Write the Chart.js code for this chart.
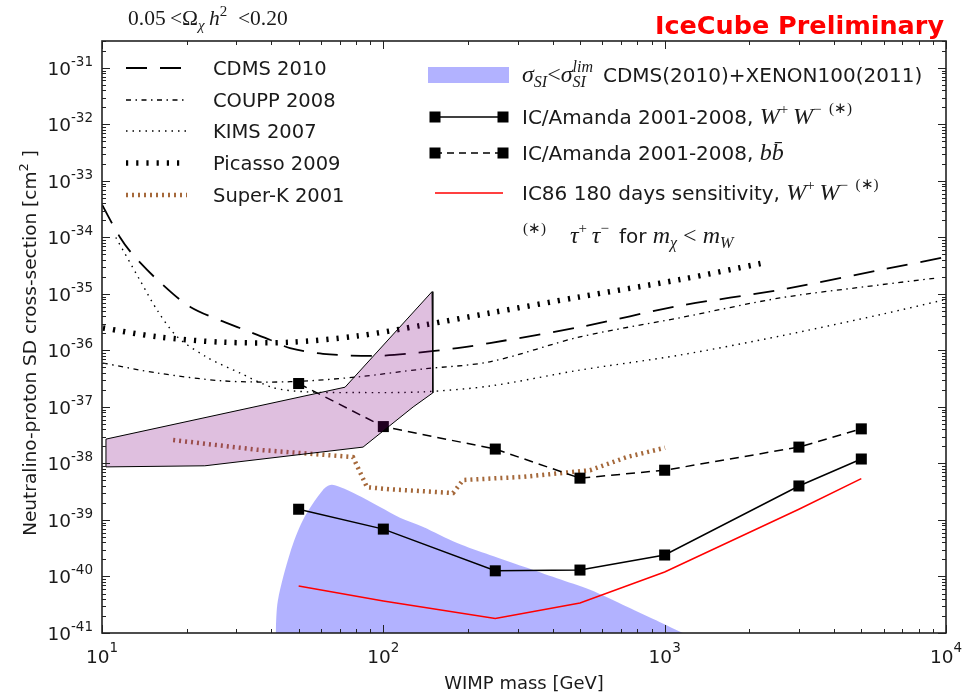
<!DOCTYPE html>
<html>
<head>
<meta charset="utf-8">
<script src="https://cdn.jsdelivr.net/npm/chart.js@4"></script>
<style>
  html, body { margin: 0; padding: 0; background: #fff; }
  #wrap { width: 974px; height: 695px; }
</style>
</head>
<body>
<div id="wrap"><canvas id="c" width="974" height="695"></canvas></div>
<script>
// axis ranges
const xMin = 10, xMax = 1e4;
const yMin = 1e-41, yMax = 3e-31;
const xTickLabels = ['1', '2', '3', '4'];          // exponents of 10
const yTickLabels = ['-31', '-32', '-33', '-34', '-35', '-36', '-37', '-38', '-39', '-40', '-41'];

// direct detection limits
const cdmsMass  = [10, 11.6, 12.9, 15.7, 20.6, 30.9, 39.5, 46.6, 61, 92, 121, 183, 239, 500, 1135, 2570, 5830, 9930];
const cdmsSigma = [3.8e-34, 1.0e-34, 4.9e-35, 1.8e-35, 5.9e-36, 2.5e-36, 1.55e-36, 1.1e-36, 8.7e-37, 8.0e-37, 8.7e-37, 1.1e-36, 1.35e-36, 2.6e-36, 6.2e-36, 1.18e-35, 2.65e-35, 4.5e-35];

const couppMass  = [10.08, 15.7, 26.9, 46.6, 80.6, 138, 239, 500, 1135, 2570, 5830, 9140];
const couppSigma = [6.0e-37, 4.0e-37, 2.9e-37, 2.8e-37, 3.4e-37, 4.7e-37, 6.3e-37, 1.74e-36, 3.8e-36, 8.5e-36, 1.45e-35, 1.9e-35];

const kimsMass  = [11.2, 13.6, 15.7, 18.5, 23.6, 30.9, 40.6, 53.6, 80.6, 138, 239, 500, 1135, 2570, 5830, 9770];
const kimsSigma = [1.0e-34, 1.8e-35, 5.2e-36, 1.75e-36, 7.6e-37, 4.0e-37, 2.2e-37, 1.85e-37, 1.8e-37, 1.85e-37, 2.35e-37, 4.5e-37, 8.3e-37, 1.8e-36, 4.3e-36, 7.8e-36];

const picassoMass  = [10.08, 15.7, 26.9, 46.6, 80.6, 138, 239, 500, 1135, 2220];
const picassoSigma = [2.5e-36, 1.75e-36, 1.4e-36, 1.4e-36, 1.8e-36, 2.8e-36, 4.6e-36, 8.9e-36, 1.8e-35, 3.5e-35];

const superkMass  = [17.9, 35.6, 53.6, 78, 87.5, 105.6, 177, 192, 314, 543, 735, 1003];
const superkSigma = [2.6e-38, 1.75e-38, 1.5e-38, 1.3e-38, 3.8e-39, 3.5e-39, 3.0e-39, 5.1e-39, 5.8e-39, 7.6e-39, 1.3e-38, 1.9e-38];

// sigma_SI < sigma_SI^lim region (filled down to the axis)
const siMass  = [41.4, 42.2, 46.6, 51.8, 61, 65.7, 80.6, 97.3, 114.6, 138, 183, 239, 314, 414, 543, 735, 963, 1162];
const siSigma = [1e-41, 3.8e-41, 2.6e-40, 1e-39, 3.4e-39, 4.2e-39, 2.8e-39, 1.7e-39, 1.1e-39, 7.6e-40, 3.9e-40, 2.4e-40, 1.5e-40, 9.3e-41, 5.8e-41, 2.9e-41, 1.55e-41, 1e-41];

// purple model region (closed outline)
const regionMass  = [10.33, 73.1, 149, 150, 127.6, 84.7, 23.2, 10.33, 10.33];
const regionSigma = [2.7e-38, 2.24e-37, 1.1e-35, 1.78e-37, 1e-37, 1.95e-38, 9.1e-39, 8.7e-39, 2.7e-38];

// IceCube results
const icMass    = [50, 100, 250, 500, 1000, 3000, 5000];
const icWW      = [1.55e-39, 6.9e-40, 1.26e-40, 1.3e-40, 2.4e-40, 4.0e-39, 1.2e-38];
const icBB      = [2.6e-37, 4.5e-38, 1.8e-38, 5.5e-39, 7.6e-39, 1.95e-38, 4.1e-38];
const ic86Sens  = [6.8e-41, 3.7e-41, 1.8e-41, 3.4e-41, 1.2e-40, 1.55e-39, 5.4e-39];

const pts = (xs, ys) => xs.map((x, i) => ({ x: x, y: ys[i] }));

const SANS = '"DejaVu Sans"';
const MATH = '"Liberation Serif"';
const TXT = '#1a1a1a';
const SUPERK = '#a5683a';
const BLUE_FILL = 'rgba(0,0,255,0.3)';
const PURPLE_FILL = 'rgba(128,0,128,0.25)';

const styles = {
    cdms:    { color: '#000', width: 1.8, dash: [21, 13] },
    coupp:   { color: '#000', width: 1.3, dash: [5, 4.5, 1.5, 4.5] },
    kims:    { color: '#000', width: 1.4, dash: [1.5, 5] },
    picasso: { color: '#000', width: 5.5, dash: [2.2, 8] },
    superk:  { color: SUPERK, width: 4.5, dash: [2, 4] },
};

function limitSet(label, xs, ys, st, tension) {
    return {
        label: label, data: pts(xs, ys), showLine: true,
        borderColor: st.color, borderWidth: st.width, borderDash: st.dash,
        pointRadius: 0, fill: false, tension: tension, order: 5,
    };
}

const mi = (s) => `italic ${s}px ${MATH}`;
const rm = (s) => `${s}px ${MATH}`;
const sf = (s) => `${s}px ${SANS}`;

function rich(ctx, x, y, segs) {
    let cx = x;
    for (const s of segs) {
        ctx.font = s.f;
        const w = ctx.measureText(s.t).width;
        ctx.fillText(s.t, cx, y + (s.dy || 0));
        if (s.bar) {
            ctx.fillRect(cx + w * 0.25, y - 18, w * 0.6, 1.2);
        }
        if (!s.stay) cx += w;
    }
    return cx;
}

function richWidth(ctx, segs) {
    let w = 0;
    for (const s of segs) { ctx.font = s.f; if (!s.stay) w += ctx.measureText(s.t).width; }
    return w;
}

function sample(ctx, x0, x1, y, st) {
    ctx.save();
    ctx.strokeStyle = st.color; ctx.lineWidth = st.width;
    ctx.setLineDash(st.dash || []);
    ctx.beginPath(); ctx.moveTo(x0, y); ctx.lineTo(x1, y); ctx.stroke();
    ctx.restore();
}

const framePlugin = {
    id: 'frame',
    afterDraw(chart) {
        const ctx = chart.ctx;
        const { left, right, top, bottom } = chart.chartArea;
        const xs = chart.scales.x, ys = chart.scales.y;
        ctx.save();

        // ticks on all four sides, pointing inwards
        ctx.strokeStyle = '#222'; ctx.lineWidth = 1;
        for (let d = 1; d <= 4; d++) {
            for (let k = 1; k <= 9; k++) {
                const v = k * Math.pow(10, d);
                if (v > xMax * 1.001) break;
                const px = Math.round(xs.getPixelForValue(v)) + 0.5;
                const len = k === 1 ? 8 : 4;
                ctx.beginPath();
                ctx.moveTo(px, bottom); ctx.lineTo(px, bottom - len);
                ctx.moveTo(px, top); ctx.lineTo(px, top + len);
                ctx.stroke();
            }
        }
        for (let d = -41; d <= -31; d++) {
            for (let k = 1; k <= 9; k++) {
                const v = k * Math.pow(10, d);
                if (v > yMax * 1.001) break;
                const py = Math.round(ys.getPixelForValue(v)) + 0.5;
                const len = k === 1 ? 8 : 4;
                ctx.beginPath();
                ctx.moveTo(left, py); ctx.lineTo(left + len, py);
                ctx.moveTo(right, py); ctx.lineTo(right - len, py);
                ctx.stroke();
            }
        }
        ctx.lineWidth = 1.6;
        ctx.strokeRect(left, top, right - left, bottom - top);

        // tick labels
        ctx.fillStyle = TXT;
        ctx.textBaseline = 'alphabetic';
        xTickLabels.forEach((e) => {
            const px = xs.getPixelForValue(Math.pow(10, +e));
            const segs = [{ t: '10', f: sf(18.5) }, { t: e, f: sf(13.5), dy: -11 }];
            const w = richWidth(ctx, segs);
            rich(ctx, px - w / 2, 663, segs);
        });
        yTickLabels.forEach((e) => {
            const py = ys.getPixelForValue(Math.pow(10, +e));
            const segs = [{ t: '10', f: sf(18.5) }, { t: e, f: sf(13.5), dy: -9 }];
            const w = richWidth(ctx, segs);
            rich(ctx, 93 - w, py + 7, segs);
        });

        // axis titles
        ctx.font = sf(18);
        ctx.textAlign = 'center';
        ctx.fillText('WIMP mass [GeV]', (left + right) / 2, 689);
        ctx.textAlign = 'left';
        ctx.save();
        ctx.translate(36, 343);
        ctx.rotate(-Math.PI / 2);
        const ylab = [{ t: 'Neutralino-proton SD cross-section [cm', f: sf(18.5) },
                      { t: '2', f: sf(13), dy: -8 }, { t: ' ]', f: sf(18.5) }];
        rich(ctx, -richWidth(ctx, ylab) / 2, 0, ylab);
        ctx.restore();

        // header texts
        rich(ctx, 128, 25, [
            { t: '0.05\u2009<', f: rm(21.5) }, { t: '\u03A9', f: rm(21.5) }, { t: '\u03C7', f: mi(15), dy: 5 },
            { t: '\u2009h', f: mi(21.5) }, { t: '2', f: rm(15), dy: -9 }, { t: '\u2002<0.20', f: rm(21.5) },
        ]);
        ctx.fillStyle = '#ff0000';
        ctx.font = `bold 25.5px ${SANS}`;
        ctx.textAlign = 'right';
        ctx.fillText('IceCube Preliminary', 944, 34);
        ctx.textAlign = 'left';

        // left legend
        ctx.fillStyle = TXT;
        const leftRows = [
            ['CDMS 2010', styles.cdms, 68], ['COUPP 2008', styles.coupp, 100],
            ['KIMS 2007', styles.kims, 131], ['Picasso 2009', styles.picasso, 163],
            ['Super-K 2001', styles.superk, 195],
        ];
        leftRows.forEach(([t, st, y]) => {
            sample(ctx, 126, 187, y, st);
            ctx.font = sf(19.5);
            ctx.fillText(t, 213, y + 7);
        });

        // right legend
        ctx.fillStyle = BLUE_FILL;
        ctx.fillRect(428, 67, 81, 16);
        ctx.fillStyle = TXT;
        rich(ctx, 522, 82, [
            { t: '\u03C3', f: mi(24) }, { t: 'SI', f: mi(16), dy: 5 }, { t: '<', f: rm(24) },
            { t: '\u03C3', f: mi(24) }, { t: 'SI', f: mi(16), dy: 5, stay: true }, { t: 'lim', f: mi(16), dy: -10 },
            { t: '\u2002CDMS(2010)+XENON100(2011)', f: sf(20) },
        ]);
        const markerRow = (y, dash) => {
            sample(ctx, 435, 503, y, { color: '#000', width: 1.5, dash: dash });
            ctx.fillStyle = '#000';
            ctx.fillRect(435 - 5.5, y - 5.5, 11, 11);
            ctx.fillRect(503 - 5.5, y - 5.5, 11, 11);
            ctx.fillStyle = TXT;
        };
        const ww = [{ t: 'W', f: mi(24) }, { t: '+', f: rm(15), dy: -10 }, { t: '\u2009W', f: mi(24) },
                    { t: '\u2212', f: rm(15), dy: -10 }, { t: '\u2002(\u2217)', f: rm(15), dy: -11 }];
        markerRow(117, []);
        rich(ctx, 522, 124, [{ t: 'IC/Amanda 2001-2008, ', f: sf(20) }].concat(ww));
        markerRow(153, [7, 5]);
        rich(ctx, 522, 160, [{ t: 'IC/Amanda 2001-2008, ', f: sf(20) },
            { t: 'b', f: mi(24) }, { t: 'b', f: mi(24), bar: true }]);
        sample(ctx, 435, 503, 193, { color: '#ff0000', width: 1.5, dash: [] });
        rich(ctx, 522, 200, [{ t: 'IC86 180 days sensitivity, ', f: sf(20) }].concat(ww));
        rich(ctx, 523, 243, [
            { t: '(\u2217)', f: rm(15), dy: -10 }, { t: '\u2003\u03C4', f: mi(24) }, { t: '+', f: rm(15), dy: -10 },
            { t: '\u2009\u03C4', f: mi(24) }, { t: '\u2212', f: rm(15), dy: -10 }, { t: '\u2002for ', f: sf(20) },
            { t: 'm', f: mi(24) }, { t: '\u03C7', f: mi(16), dy: 5 }, { t: ' < ', f: rm(24) },
            { t: 'm', f: mi(24) }, { t: 'W', f: mi(16), dy: 5 },
        ]);
        ctx.restore();
    }
};

new Chart(document.getElementById('c'), {
    type: 'scatter',
    data: {
        datasets: [
            {
                label: 'sigma_SI < sigma_SI^lim CDMS(2010)+XENON100(2011)',
                data: pts(siMass, siSigma), showLine: true, tension: 0.3,
                borderWidth: 0, borderColor: 'rgba(0,0,0,0)', backgroundColor: BLUE_FILL,
                pointRadius: 0, fill: 'start', order: 10,
            },
            limitSet('CDMS 2010', cdmsMass, cdmsSigma, styles.cdms, 0.3),
            limitSet('COUPP 2008', couppMass, couppSigma, styles.coupp, 0.3),
            limitSet('KIMS 2007', kimsMass, kimsSigma, styles.kims, 0.3),
            limitSet('Picasso 2009', picassoMass, picassoSigma, styles.picasso, 0.3),
            limitSet('Super-K 2001', superkMass, superkSigma, styles.superk, 0),
            {
                label: 'IC86 180 days sensitivity',
                data: pts(icMass, ic86Sens), showLine: true,
                borderColor: '#ff0000', borderWidth: 1.5, pointRadius: 0, fill: false, order: 3,
            },
            {
                label: 'IC/Amanda 2001-2008, bb',
                data: pts(icMass, icBB), showLine: true, borderDash: [9, 6],
                borderColor: '#000', borderWidth: 1.5, pointStyle: 'rect', pointRadius: 7.8,
                pointBackgroundColor: '#000', pointBorderWidth: 0, fill: false, order: 2,
            },
            {
                label: 'IC/Amanda 2001-2008, WW',
                data: pts(icMass, icWW), showLine: true,
                borderColor: '#000', borderWidth: 1.5, pointStyle: 'rect', pointRadius: 7.8,
                pointBackgroundColor: '#000', pointBorderWidth: 0, fill: false, order: 2,
            },
            {
                label: 'model region',
                data: pts(regionMass, regionSigma), showLine: true,
                borderColor: '#000', borderWidth: 1, backgroundColor: PURPLE_FILL,
                pointRadius: 0, fill: 'shape', order: 0,
            },
        ]
    },
    options: {
        responsive: false,
        animation: false,
        devicePixelRatio: 1,
        layout: { padding: { left: 102, top: 41, right: 28, bottom: 62 } },
        scales: {
            x: { type: 'logarithmic', min: xMin, max: xMax, display: false },
            y: { type: 'logarithmic', min: yMin, max: yMax, display: false },
        },
        plugins: { legend: { display: false }, tooltip: { enabled: false } },
    },
    plugins: [framePlugin],
});
</script>
</body>
</html>
